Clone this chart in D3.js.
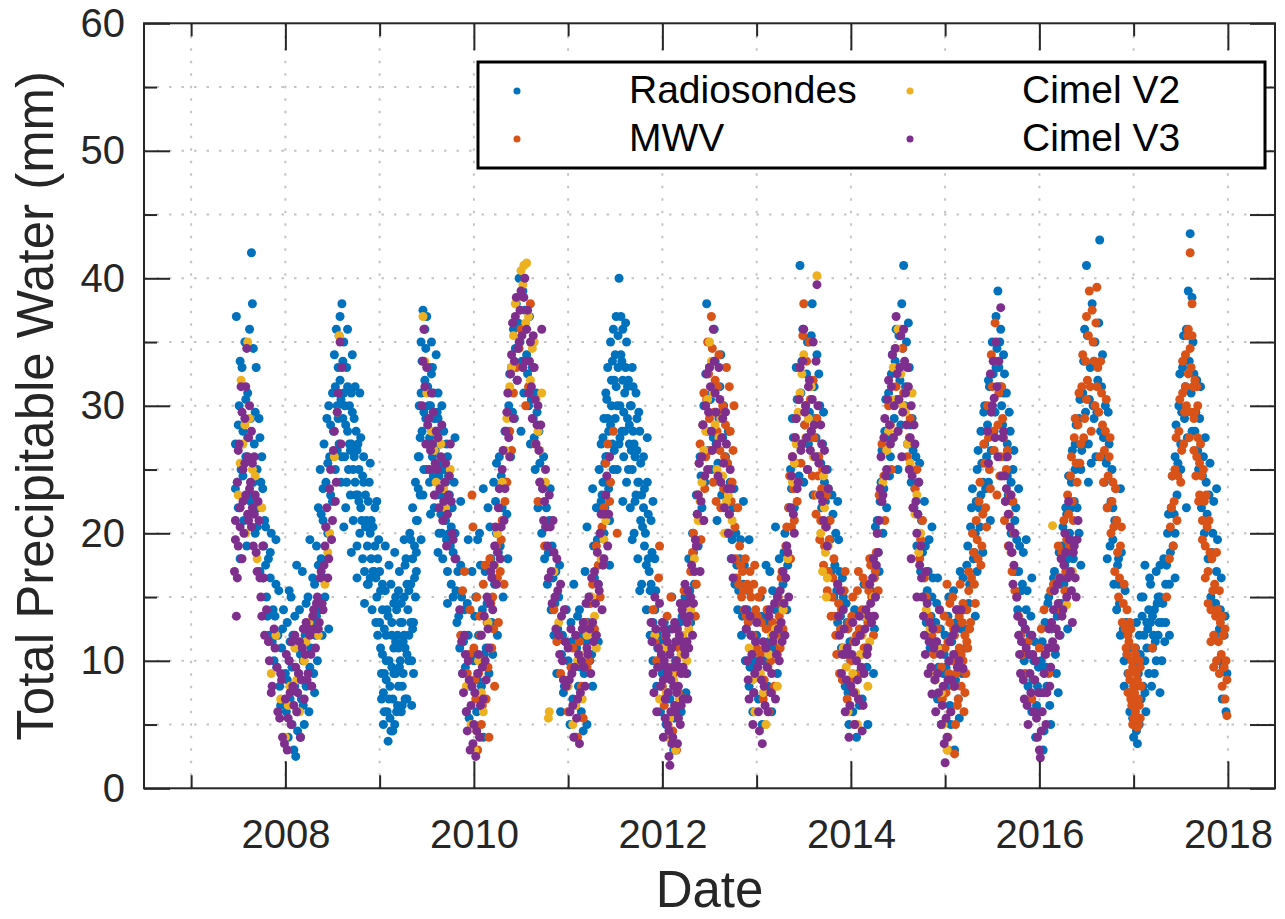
<!DOCTYPE html>
<html>
<head>
<meta charset="utf-8">
<script src="https://cdn.jsdelivr.net/npm/d3@7"></script>
<style>
  body { margin: 0; background: #fff; }
  svg text { font-family: "Liberation Sans", Arial, Helvetica, sans-serif; }
</style>
</head>
<body>
<div id="chart"></div>
<script>
// each point: [decimal year, total precipitable water in mm]
let radiosondes = [
  [2007.47,27],[2007.48,37],[2007.49,24],[2007.5,22],[2007.51,30],[2007.52,18],[2007.53,25],[2007.54,33],[2007.55,28],[2007.56,21],[2007.57,35],[2007.58,26],[2007.59,19],[2007.6,31],[2007.61,23],[2007.62,36],[2007.63,29],[2007.64,42],[2007.65,38],[2007.66,24],[2007.67,27],[2007.68,20],[2007.69,33],[2007.7,25],[2007.71,22],[2007.72,29],[2007.73,17],[2007.74,24],[2007.75,26],[2007.77,19],[2007.78,21],[2007.8,15],[2007.82,18],[2007.83,12],[2007.85,20],[2007.87,14],[2007.88,10],[2007.9,16],[2007.92,12],[2007.94,8],[2007.96,11],[2007.98,14],
  [2007.47,23.5],[2007.5,28.5],[2007.52,33.5],[2007.55,24.5],[2007.58,30.5],[2007.6,27.5],[2007.63,22.5],[2007.66,34.5],[2007.68,29.5],[2007.7,20.5],[2007.73,27.5],[2007.76,23.5],[2007.79,17.5],[2007.81,13.5],[2007.84,16.5],[2007.86,11.5],[2007.89,13.5],[2007.91,9.5],[2007.93,15.5],[2007.95,6.5],[2007.97,12.5],
  [2008.0,9],[2008.01,6],[2008.02,13],[2008.03,4],[2008.04,10],[2008.05,7],[2008.06,15],[2008.07,5],[2008.08,12],[2008.09,3],[2008.1,8],[2008.11,2.5],[2008.12,11],[2008.13,6],[2008.14,9],[2008.15,14],[2008.16,4],[2008.17,7],[2008.18,17],[2008.19,10],[2008.2,5],[2008.21,12],[2008.22,8],[2008.24,15],[2008.25,6],[2008.27,11],[2008.28,13],[2008.3,9],
  [2008.02,8.5],[2008.05,11.5],[2008.07,9.5],[2008.1,13.5],[2008.13,4.5],[2008.16,10.5],[2008.19,6.5],[2008.22,14.5],[2008.26,9.5],[2008.29,16.5],[2008.31,7.5],[2008.33,13.5],
  [2008.31,16],[2008.32,12],[2008.33,19],[2008.34,10],[2008.35,22],[2008.36,14],[2008.37,25],[2008.38,18],[2008.39,12],[2008.4,21],[2008.41,27],[2008.42,15],[2008.43,24],[2008.44,29],[2008.45,20],[2008.46,30],[2008.47,26],[2008.48,23],[2008.5,31],[2008.51,28],[2008.52,34],[2008.53,25],[2008.54,36],[2008.55,30],
  [2008.35,17.5],[2008.38,21.5],[2008.4,16.5],[2008.43,20.5],[2008.45,25.5],[2008.48,28.5],[2008.5,22.5],[2008.53,31.5],[2008.55,26.5],[2008.57,35.5],[2008.59,30.5],[2008.61,33.5],[2008.64,28.5],[2008.66,31.5],[2008.69,26.5],[2008.71,29.5],[2008.74,31.5],[2008.76,26.5],[2008.78,22.5],[2008.8,27.5],[2008.82,24.5],[2008.85,20.5],[2008.88,22.5],[2008.9,16.5],[2008.93,20.5],[2008.96,16.5],[2008.99,19.5],
  [2008.56,33],[2008.57,27],[2008.58,37],[2008.59,24],[2008.6,38],[2008.61,29],[2008.62,31],[2008.63,26],[2008.64,22],[2008.65,33],[2008.66,28],[2008.67,25],[2008.68,30],[2008.69,23],[2008.7,27],[2008.71,34],[2008.72,21],[2008.73,26],[2008.74,24],[2008.75,28],[2008.76,19],[2008.77,23],[2008.78,25],[2008.79,20],[2008.8,22],[2008.82,18],[2008.83,24],[2008.84,17],[2008.86,21],[2008.87,19],[2008.88,16],[2008.9,20],[2008.91,18],[2008.92,14],[2008.94,17],[2008.95,19],[2008.97,15],[2008.98,12],
  [2008.56,29],[2008.58,32],[2008.6,26],[2008.62,35],[2008.63,30],[2008.65,24],[2008.66,36],[2008.68,27],[2008.7,31],[2008.72,25],[2008.73,29],[2008.75,23],[2008.77,27],[2008.79,31],[2008.81,21],[2008.83,26],[2008.85,23],[2008.87,16],[2008.89,24],[2008.91,21],[2008.93,17],[2008.95,22],[2008.96,13],[2008.98,18],
  [2009.0,17],[2009.01,11],[2009.02,7],[2009.03,14],[2009.04,5],[2009.05,9],[2009.06,19],[2009.07,12],[2009.08,6],[2009.09,3.7],[2009.1,10],[2009.11,8],[2009.12,16],[2009.13,13],[2009.14,7],[2009.15,11],[2009.16,5],[2009.17,9],[2009.18,14],[2009.19,12],[2009.2,8],[2009.21,17],[2009.22,10],[2009.23,6],[2009.24,13],[2009.25,9],[2009.26,15],[2009.27,11],[2009.28,18],[2009.29,7],[2009.3,14],[2009.31,12],[2009.32,20],[2009.33,16],[2009.34,10],[2009.35,22],[2009.36,13],[2009.37,19],[2009.38,24],[2009.39,17],
  [2009.0,13],[2009.02,9],[2009.03,16],[2009.05,6],[2009.07,10],[2009.08,14],[2009.1,7],[2009.12,4.5],[2009.13,12],[2009.15,9],[2009.17,15],[2009.18,6],[2009.2,11],[2009.22,13],[2009.24,8],[2009.26,12],[2009.27,7],[2009.29,16],[2009.31,10],[2009.33,13],[2009.35,18],[2009.36,9],[2009.38,15],[2009.39,21],
  [2009.01,15.5],[2009.03,10.5],[2009.05,12.5],[2009.07,8.5],[2009.09,13.5],[2009.11,5.5],[2009.13,9.5],[2009.15,14.5],[2009.17,11.5],[2009.19,6.5],[2009.21,9.5],[2009.23,14.5],[2009.25,11.5],[2009.27,17.5],[2009.29,10.5],[2009.31,15.5],[2009.33,19.5],[2009.35,12.5],[2009.37,16.5],[2009.39,18.5],[2009.04,7.5],[2009.14,4.5],[2009.24,6.5],[2009.1,17.5],[2009.2,15.5],
  [2009.4,21],[2009.41,26],[2009.42,30],[2009.43,23],[2009.44,35],[2009.45,28],[2009.46,37.5],[2009.47,25],[2009.48,32],[2009.49,29],[2009.5,37],[2009.51,27],[2009.52,33],[2009.53,24],[2009.54,30],[2009.55,35],[2009.56,26],[2009.57,31],[2009.58,22],[2009.59,28],[2009.6,34],[2009.61,25],[2009.62,29],[2009.63,20],[2009.64,27],[2009.65,23],[2009.66,30],[2009.67,18],[2009.68,25],[2009.7,21],[2009.71,27],[2009.72,17],[2009.74,23],[2009.75,19],[2009.77,22],[2009.78,15],[2009.8,20],[2009.82,13],[2009.83,17],[2009.85,11],[2009.87,15],[2009.88,9],[2009.9,14],[2009.92,6],[2009.94,12],[2009.96,8],[2009.98,17],
  [2009.42,26],[2009.44,31],[2009.46,23],[2009.48,36],[2009.5,25],[2009.52,30],[2009.54,27],[2009.56,33],[2009.58,29],[2009.6,23],[2009.62,31],[2009.64,25],[2009.66,20],[2009.68,28],[2009.7,24],[2009.72,26],[2009.74,20],[2009.76,16],[2009.79,24],[2009.81,18],
  [2009.41,23.5],[2009.43,27.5],[2009.45,33.5],[2009.47,29.5],[2009.49,34.5],[2009.51,31.5],[2009.53,27.5],[2009.55,32.5],[2009.57,24.5],[2009.59,26.5],[2009.61,29.5],[2009.63,24.5],[2009.65,21.5],[2009.67,25.5],[2009.69,22.5],[2009.71,19.5],[2009.73,24.5],[2009.76,20.5],[2009.78,18.5],[2009.81,15.5],[2009.84,13.5],[2009.86,17.5],[2009.89,11.5],[2009.91,9.5],[2009.93,14.5],[2009.95,5.5],[2009.97,10.5],
  [2010.0,10],[2010.02,15],[2010.03,6],[2010.05,12],[2010.06,20],[2010.08,8],[2010.09,14],[2010.1,4],[2010.12,17],[2010.13,11],[2010.15,22],[2010.16,9],[2010.18,18],[2010.19,13],[2010.21,24],[2010.22,16],[2010.24,20],[2010.25,12],[2010.27,26],[2010.28,19],[2010.3,22],[2010.31,15],[2010.33,28],[2010.34,24],[2010.36,18],
  [2010.37,30],[2010.39,26],[2010.4,33],[2010.42,36],[2010.43,29],[2010.45,38],[2010.46,32],[2010.48,40],[2010.49,35],[2010.5,28],[2010.52,39],[2010.53,31],[2010.55,36],[2010.56,34],[2010.58,30],[2010.59,37],[2010.6,27],[2010.62,33],[2010.63,29],[2010.65,25],[2010.66,31],[2010.68,22],[2010.69,28],[2010.71,24],[2010.72,20],[2010.74,26],[2010.75,18],[2010.77,22],[2010.78,16],[2010.8,21],[2010.82,14],[2010.83,19],[2010.85,12],[2010.87,17],[2010.88,9],[2010.9,15],[2010.92,6],[2010.94,12],[2010.96,8],[2010.98,14],
  [2010.01,13.5],[2010.04,8.5],[2010.07,17.5],[2010.11,10.5],[2010.14,14.5],[2010.17,20.5],[2010.2,16.5],[2010.23,22.5],[2010.26,18.5],[2010.29,24.5],[2010.32,26.5],[2010.35,21.5],[2010.38,32.5],[2010.41,29.5],[2010.44,34.5],[2010.47,36.5],[2010.51,33.5],[2010.54,37.5],[2010.57,32.5],[2010.61,30.5],[2010.64,27.5],[2010.67,29.5],[2010.7,25.5],[2010.73,23.5],[2010.76,20.5],[2010.79,18.5],[2010.81,23.5],[2010.84,16.5],[2010.86,14.5],[2010.89,12.5],[2010.91,17.5],[2010.93,10.5],[2010.95,7.5],[2010.97,11.5],
  [2011.0,10],[2011.02,5],[2011.03,13],[2011.05,7],[2011.06,16],[2011.08,4],[2011.09,11],[2011.11,8],[2011.12,14],[2011.14,6],[2011.15,12],[2011.17,9],[2011.18,17],[2011.2,5],[2011.21,13],[2011.23,10],[2011.24,15],[2011.26,8],[2011.27,19],[2011.29,12],[2011.3,22],[2011.32,16],
  [2011.01,8.5],[2011.04,11.5],[2011.07,6.5],[2011.1,13.5],[2011.13,9.5],[2011.16,4.5],[2011.19,11.5],[2011.22,14.5],[2011.25,10.5],[2011.28,16.5],[2011.31,19.5],
  [2011.33,25],[2011.34,20],[2011.35,27],[2011.36,18],[2011.37,24],[2011.38,29],[2011.39,22],[2011.4,31],[2011.41,26],[2011.42,33],[2011.43,28],[2011.44,24],[2011.45,35],[2011.46,30],[2011.47,27],[2011.48,36],[2011.49,32],[2011.5,29],[2011.51,37],[2011.52,25],[2011.53,33],[2011.54,40],[2011.55,30],[2011.56,34],[2011.57,28],[2011.58,36],[2011.59,26],[2011.6,31],[2011.61,33],[2011.62,24],[2011.63,29],[2011.64,32],[2011.65,27],[2011.66,22],[2011.67,30],[2011.68,25],[2011.69,28],[2011.7,20],[2011.71,26],[2011.72,23],[2011.73,29],[2011.74,18],[2011.75,24],[2011.77,21],[2011.78,16],[2011.8,22],[2011.81,19],[2011.83,14],[2011.85,18],[2011.87,12],[2011.88,16],[2011.9,10],[2011.92,14],[2011.94,8],[2011.96,12],[2011.98,6],
  [2011.36,23],[2011.38,20],[2011.4,26],[2011.42,29],[2011.44,21],[2011.46,32],[2011.48,25],[2011.5,34],[2011.52,30],[2011.54,27],[2011.56,37],[2011.58,32],[2011.6,28],[2011.62,35],[2011.64,25],[2011.66,30],[2011.68,33],[2011.7,27],[2011.72,31],[2011.74,24],[2011.76,28],[2011.78,23],[2011.8,26],[2011.82,20],[2011.84,24],[2011.86,17],[2011.88,21],[2011.9,13],[2011.92,18],[2011.95,11],
  [2011.35,22.5],[2011.37,27.5],[2011.39,25.5],[2011.41,30.5],[2011.43,23.5],[2011.45,28.5],[2011.47,33.5],[2011.49,26.5],[2011.51,31.5],[2011.53,35.5],[2011.55,27.5],[2011.57,33.5],[2011.59,29.5],[2011.61,36.5],[2011.63,31.5],[2011.65,28.5],[2011.67,26.5],[2011.69,31.5],[2011.71,22.5],[2011.73,26.5],[2011.75,29.5],[2011.77,25.5],[2011.79,20.5],[2011.81,23.5],[2011.83,17.5],[2011.85,21.5],[2011.87,15.5],[2011.89,18.5],[2011.91,11.5],[2011.93,15.5],[2011.97,9.5],
  [2012.0,9],[2012.02,13],[2012.04,5],[2012.06,11],[2012.08,7],[2012.1,15],[2012.12,3],[2012.14,10],[2012.16,8],[2012.18,13],[2012.2,6],[2012.22,11],[2012.24,15],[2012.26,9],[2012.28,18],[2012.3,13],[2012.32,20],[2012.34,16],[2012.36,23],[2012.38,19],
  [2012.4,26],[2012.42,22],[2012.44,30],[2012.45,24],[2012.47,38],[2012.48,28],[2012.5,33],[2012.52,25],[2012.53,31],[2012.55,36],[2012.57,27],[2012.58,21],[2012.6,29],[2012.62,34],[2012.63,23],[2012.65,30],[2012.67,26],[2012.68,20],[2012.7,28],[2012.72,24],[2012.73,18],[2012.75,22],[2012.77,16],[2012.78,20],[2012.8,14],[2012.82,18],[2012.84,12],[2012.86,16],[2012.88,10],[2012.9,14],[2012.92,8],[2012.94,12],[2012.96,6],[2012.98,10],
  [2012.01,11.5],[2012.05,7.5],[2012.09,12.5],[2012.13,5.5],[2012.17,9.5],[2012.21,13.5],[2012.25,7.5],[2012.29,15.5],[2012.33,18.5],[2012.37,21.5],[2012.41,24.5],[2012.43,28.5],[2012.46,32.5],[2012.49,26.5],[2012.51,30.5],[2012.54,27.5],[2012.56,33.5],[2012.59,25.5],[2012.61,31.5],[2012.64,27.5],[2012.66,23.5],[2012.69,25.5],[2012.71,21.5],[2012.74,19.5],[2012.76,23.5],[2012.79,17.5],[2012.81,15.5],[2012.83,19.5],[2012.85,13.5],[2012.87,17.5],[2012.89,12.5],[2012.91,15.5],[2012.93,9.5],[2012.95,13.5],[2012.97,7.5],[2012.99,11.5],
  [2013.0,12],[2013.02,7],[2013.04,15],[2013.06,5],[2013.08,10],[2013.1,13],[2013.12,8],[2013.14,17],[2013.16,6],[2013.18,11],[2013.2,14],[2013.22,9],[2013.24,18],[2013.26,12],[2013.28,16],[2013.3,20],[2013.32,14],[2013.34,22],
  [2013.36,25],[2013.38,29],[2013.4,22],[2013.42,33],[2013.44,27],[2013.46,41],[2013.47,31],[2013.49,36],[2013.5,24],[2013.52,30],[2013.54,35],[2013.55,27],[2013.57,32],[2013.59,38],[2013.6,23],[2013.62,29],[2013.64,34],[2013.65,26],[2013.67,30],[2013.69,22],[2013.7,27],[2013.72,24],[2013.74,19],[2013.75,25],[2013.77,21],[2013.79,17],[2013.8,23],[2013.82,15],[2013.84,20],[2013.86,13],[2013.88,17],[2013.9,11],[2013.92,15],[2013.94,8],[2013.96,13],[2013.98,5],
  [2013.01,9.5],[2013.05,13.5],[2013.09,7.5],[2013.13,11.5],[2013.17,15.5],[2013.21,11.5],[2013.25,14.5],[2013.29,18.5],[2013.33,17.5],[2013.37,23.5],[2013.39,27.5],[2013.41,25.5],[2013.43,30.5],[2013.45,24.5],[2013.48,33.5],[2013.51,28.5],[2013.53,32.5],[2013.56,29.5],[2013.58,35.5],[2013.61,31.5],[2013.63,27.5],[2013.66,32.5],[2013.68,25.5],[2013.71,29.5],[2013.73,22.5],[2013.76,23.5],[2013.78,19.5],[2013.81,21.5],[2013.83,17.5],[2013.85,15.5],[2013.87,19.5],[2013.89,13.5],[2013.91,16.5],[2013.93,10.5],[2013.95,14.5],[2013.97,7.5],[2013.99,11.5],
  [2014.0,10],[2014.02,6],[2014.04,14],[2014.06,4],[2014.08,9],[2014.1,12],[2014.12,7],[2014.14,16],[2014.16,11],[2014.18,5],[2014.2,13],[2014.22,18],[2014.24,9],[2014.26,15],[2014.28,21],[2014.3,17],
  [2014.32,24],[2014.34,20],[2014.36,28],[2014.38,22],[2014.4,31],[2014.42,26],[2014.44,34],[2014.46,29],[2014.48,36],[2014.5,25],[2014.52,32],[2014.54,38],[2014.56,41],[2014.57,30],[2014.59,35],[2014.6,27],[2014.62,33],[2014.64,24],[2014.65,29],[2014.67,22],[2014.69,26],[2014.7,19],[2014.72,24],[2014.74,17],[2014.75,21],[2014.77,15],[2014.79,19],[2014.8,13],[2014.82,17],[2014.84,11],[2014.86,15],[2014.88,9],[2014.9,13],[2014.92,7],[2014.94,11],[2014.96,5],[2014.98,9],
  [2014.01,8.5],[2014.05,11.5],[2014.09,6.5],[2014.13,13.5],[2014.17,9.5],[2014.21,15.5],[2014.25,12.5],[2014.29,18.5],[2014.31,22.5],[2014.33,26.5],[2014.35,23.5],[2014.37,30.5],[2014.39,27.5],[2014.41,24.5],[2014.43,32.5],[2014.45,27.5],[2014.47,33.5],[2014.49,30.5],[2014.51,35.5],[2014.53,28.5],[2014.55,34.5],[2014.58,31.5],[2014.61,36.5],[2014.63,28.5],[2014.66,26.5],[2014.68,23.5],[2014.71,21.5],[2014.73,25.5],[2014.76,18.5],[2014.78,22.5],[2014.81,15.5],[2014.83,19.5],[2014.85,13.5],[2014.87,16.5],[2014.89,11.5],[2014.91,14.5],[2014.93,9.5],[2014.95,12.5],[2014.97,7.5],[2014.99,10.5],
  [2015.0,12],[2015.02,8],[2015.04,15],[2015.06,5],[2015.08,10],[2015.1,3],[2015.12,13],[2015.14,7],[2015.16,17],[2015.18,9],[2015.2,14],[2015.22,11],[2015.24,19],[2015.26,16],[2015.28,22],[2015.3,18],
  [2015.32,20],[2015.34,25],[2015.36,22],[2015.38,28],[2015.4,24],[2015.42,30],[2015.44,26],[2015.46,32],[2015.48,21],[2015.5,35],[2015.52,28],[2015.54,37],[2015.56,39],[2015.57,33],[2015.59,36],[2015.6,30],[2015.62,34],[2015.64,26],[2015.65,31],[2015.67,23],[2015.69,28],[2015.7,20],[2015.72,25],[2015.74,17],[2015.75,22],[2015.77,14],[2015.79,19],[2015.8,12],[2015.82,16],[2015.84,10],[2015.86,14],[2015.88,8],[2015.9,12],[2015.92,6],[2015.94,10],[2015.96,4],[2015.98,8],
  [2015.34,17],[2015.38,23],[2015.42,27],[2015.46,24],[2015.5,30],[2015.54,33],[2015.58,35],[2015.62,31],[2015.66,27],[2015.7,24],[2015.74,21],[2015.78,17],[2015.82,13],
  [2015.01,9.5],[2015.03,13.5],[2015.05,6.5],[2015.07,11.5],[2015.09,15.5],[2015.11,8.5],[2015.13,10.5],[2015.15,5.5],[2015.17,12.5],[2015.19,16.5],[2015.21,12.5],[2015.23,17.5],[2015.25,14.5],[2015.27,20.5],[2015.29,23.5],[2015.31,18.5],[2015.33,22.5],[2015.35,26.5],[2015.37,20.5],[2015.39,25.5],[2015.41,29.5],[2015.43,23.5],[2015.45,28.5],[2015.47,31.5],[2015.49,26.5],[2015.51,32.5],[2015.53,29.5],[2015.55,34.5],[2015.58,31.5],[2015.61,28.5],[2015.63,32.5],[2015.66,24.5],[2015.68,29.5],[2015.71,22.5],[2015.73,26.5],[2015.76,19.5],[2015.78,23.5],[2015.81,15.5],[2015.83,18.5],[2015.85,12.5],[2015.87,15.5],[2015.89,10.5],[2015.91,13.5],[2015.93,8.5],[2015.95,11.5],[2015.97,6.5],[2015.99,9.5],
  [2016.0,6],[2016.02,10],[2016.04,3],[2016.06,13],[2016.08,8],[2016.1,15],[2016.12,5],[2016.14,11],[2016.16,17],[2016.18,9],[2016.2,14],[2016.22,12],[2016.24,19],[2016.26,16],[2016.28,22],[2016.3,18],
  [2016.32,20],[2016.34,24],[2016.36,18],[2016.38,27],[2016.4,22],[2016.42,29],[2016.44,25],[2016.46,31],[2016.48,36],[2016.5,41],[2016.52,27],[2016.54,33],[2016.56,38],[2016.57,30],[2016.59,35],[2016.6,26],[2016.62,32],[2016.64,43],[2016.65,28],[2016.67,34],[2016.69,24],[2016.7,30],[2016.72,22],[2016.74,27],[2016.75,19],[2016.77,25],[2016.79,16],[2016.8,21],[2016.82,14],[2016.84,18],[2016.86,12],[2016.88,16],[2016.9,10],[2016.92,13],
  [2016.22,16],[2016.28,19],[2016.34,22],[2016.38,25],[2016.42,20],[2016.46,27],[2016.52,24],[2016.58,29],[2016.66,26],[2016.72,18],[2016.78,22],[2016.84,16],[2016.9,8],
  [2016.01,7.5],[2016.03,11.5],[2016.05,4.5],[2016.07,9.5],[2016.09,14.5],[2016.11,6.5],[2016.13,12.5],[2016.15,16.5],[2016.17,10.5],[2016.19,13.5],[2016.21,18.5],[2016.23,14.5],[2016.25,20.5],[2016.27,17.5],[2016.29,21.5],[2016.31,24.5],[2016.33,19.5],[2016.35,26.5],[2016.37,22.5],[2016.39,28.5],[2016.41,25.5],[2016.43,30.5],[2016.45,26.5],[2016.47,33.5],[2016.49,29.5],[2016.51,35.5],[2016.53,30.5],[2016.55,25.5],[2016.58,33.5],[2016.61,29.5],[2016.63,36.5],[2016.66,31.5],[2016.68,27.5],[2016.71,25.5],[2016.73,29.5],[2016.76,22.5],[2016.78,19.5],[2016.81,23.5],[2016.83,17.5],[2016.85,14.5],[2016.87,18.5],[2016.89,12.5],[2016.91,15.5],[2016.93,10.5],[2016.95,7.5],[2016.97,12.5],[2016.99,5.5],
  [2016.94,9],[2016.96,6],[2016.98,11],[2017.0,4],[2017.02,8],[2017.04,3.5],[2017.06,12],[2017.08,7],[2017.1,15],[2017.12,10],[2017.14,13],[2017.16,9],[2017.18,16],[2017.2,11],[2017.22,14],[2017.24,17],[2017.26,12],[2017.28,15],[2017.3,10],[2017.32,18],[2017.34,13],[2017.36,20],[2017.38,16],
  [2017.0,7],[2017.02,11],[2017.03,13],[2017.05,9],[2017.06,5],[2017.08,15],[2017.1,8],[2017.11,12],[2017.13,6],[2017.14,11],[2017.16,14],[2017.18,13],[2017.19,8],[2017.21,12],[2017.22,9],[2017.24,10],[2017.26,15],[2017.27,13],[2017.3,13],[2017.34,16],[2017.38,12],
  [2017.01,9.5],[2017.03,4.5],[2017.07,10.5],[2017.09,13.5],[2017.12,7.5],[2017.15,12.5],[2017.17,16.5],[2017.2,13.5],[2017.23,11.5],[2017.25,14.5],[2017.28,17.5],[2017.31,14.5],[2017.33,11.5],[2017.35,17.5],[2017.37,21.5],[2017.39,18.5],[2017.41,24.5],[2017.43,21.5],[2017.45,28.5],[2017.47,25.5],[2017.49,32.5],[2017.51,29.5],[2017.53,35.5],[2017.55,31.5],[2017.57,27.5],[2017.59,33.5],[2017.62,38.5],[2017.64,32.5],[2017.66,29.5],[2017.68,26.5],[2017.71,31.5],[2017.73,24.5],[2017.76,27.5],[2017.78,21.5],[2017.81,25.5],[2017.83,18.5],[2017.85,22.5],[2017.87,14.5],[2017.89,19.5],[2017.91,12.5],[2017.93,16.5],[2017.95,9.5],[2017.97,13.5],
  [2017.4,22],[2017.42,19],[2017.44,26],[2017.46,23],[2017.48,30],[2017.5,27],[2017.52,33],[2017.54,29],[2017.56,36],[2017.58,39],[2017.6,43.5],[2017.61,31],[2017.63,35],[2017.65,28],[2017.67,32],[2017.69,25],[2017.7,29],[2017.72,22],[2017.74,26],[2017.75,20],[2017.77,24],[2017.79,18],[2017.8,23],[2017.82,15],[2017.84,20],[2017.86,12],[2017.88,17],[2017.9,10],[2017.92,14],[2017.94,7],[2017.96,12],[2017.98,6],[2017.99,9],
  [2017.44,20],[2017.5,25],[2017.56,22],[2017.62,28],
  // scattered outliers around each season's envelope
  [2007.76,16.5],[2007.79,20.5],[2007.84,18.5],[2007.9,19.5],[2008.04,15.5],[2008.12,17.5],[2008.26,19.5],[2008.4,23.5],[2008.46,12.5],[2008.62,20.5],[2008.7,18.5],[2008.76,16.5],[2008.84,14.5],[2008.9,25.5],[2008.97,22.5],[2009.06,15.5],[2009.16,18.5],[2009.26,19.5],[2009.34,6.5],[2009.44,19.5],[2009.54,21.5],[2009.62,18.5],[2009.72,14.5],[2009.8,27.5],[2009.86,22.5],[2009.94,19.5],[2010.04,19.5],[2010.1,23.5],[2010.2,10.5],[2010.24,25.5],[2011.2,20.5],[2011.26,23.5],[2011.32,11.5],[2011.44,17.5],[2011.58,22.5],[2011.68,19.5],[2011.76,15.5],[2011.84,27.5],[2011.9,22.5],[2012.86,22.5],[2012.92,19.5],[2013.1,17.5],[2013.2,20.5],[2013.86,22.5],[2014.26,20.5],[2014.86,20.5],[2014.92,16.5],[2015.32,13.5],[2015.4,18.5],[2015.86,19.5],[2015.92,16.5],[2016.2,7.5],[2016.3,12.5],[2016.44,17.5],[2016.86,23.5],[2017.12,17.5],[2017.28,7.5],[2017.44,16.5],[2017.88,23.5]
];

let mwv = [
  [2009.86,12],[2009.9,17],[2009.93,9],[2009.96,14],[2009.98,23],[2009.99,20.5],[2010.0,11],[2010.02,7],[2010.03,15],[2010.04,3],[2010.05,9],[2010.07,12],[2010.08,5],[2010.1,16],[2010.11,10],[2010.13,7],[2010.14,13],[2010.16,4],[2010.17,18],[2010.19,11],[2010.2,15],[2010.22,8],[2010.24,19],[2010.26,13],[2010.28,17],[2010.3,21],[2010.32,16],[2010.35,24],[2010.38,28],[2010.42,31],
  [2009.88,15.5],[2009.95,10.5],[2010.01,8.5],[2010.06,13.5],[2010.09,6.5],[2010.12,17.5],[2010.15,9.5],[2010.18,14.5],[2010.21,12.5],[2010.25,16.5],[2010.29,19.5],[2010.33,22.5],[2010.4,26.5],[2010.48,34.5],[2010.58,31.5],[2010.68,22.5],
  [2010.45,33],[2010.5,36],[2010.55,30],[2010.6,38],[2010.65,27],[2010.7,24],[2010.75,19],
  [2010.85,14],[2010.92,9],[2011.0,6],[2011.05,11],[2011.1,4],[2011.14,8],[2011.18,13],[2011.22,10],[2011.26,16],[2011.3,19],[2011.34,15],[2011.38,22],[2011.42,27],[2011.45,24],[2011.48,28],[2011.52,20],
  [2010.88,11.5],[2010.96,8.5],[2011.03,9.5],[2011.08,6.5],[2011.12,11.5],[2011.16,5.5],[2011.2,9.5],[2011.24,14.5],[2011.28,12.5],[2011.32,17.5],[2011.36,20.5],[2011.4,25.5],[2011.44,22.5],
  [2011.9,14],[2011.94,10],[2011.97,19],[2012.0,8],[2012.03,12],[2012.06,5],[2012.09,15],[2012.12,9],[2012.15,3],[2012.18,11],[2012.21,14],[2012.24,7],[2012.27,13],[2012.3,17],[2012.33,20],[2012.36,16],
  [2011.92,11.5],[2011.96,16.5],[2011.99,10.5],[2012.02,6.5],[2012.05,13.5],[2012.08,9.5],[2012.11,4.5],[2012.14,12.5],[2012.17,7.5],[2012.2,10.5],[2012.23,15.5],[2012.26,11.5],[2012.29,14.5],[2012.32,18.5],[2012.35,13.5],
  [2012.38,23],[2012.4,27],[2012.42,21],[2012.44,31],[2012.46,26],[2012.48,35],[2012.5,29],[2012.52,37],[2012.54,24],[2012.56,32],[2012.58,28],[2012.6,34],[2012.62,22],[2012.64,30],[2012.66,26],[2012.68,33],[2012.7,20],[2012.72,28],[2012.74,24],[2012.76,30],[2012.78,18],[2012.8,22],
  [2012.39,25.5],[2012.41,19.5],[2012.43,28.5],[2012.45,23.5],[2012.47,30.5],[2012.49,32.5],[2012.51,26.5],[2012.53,34.5],[2012.55,29.5],[2012.57,22.5],[2012.59,31.5],[2012.61,26.5],[2012.63,29.5],[2012.65,23.5],[2012.67,28.5],[2012.69,25.5],[2012.71,31.5],[2012.73,22.5],[2012.75,26.5],[2012.77,20.5],[2012.79,16.5],[2012.83,17.5],[2012.86,15.5],[2012.89,13.5],[2012.92,15.5],[2012.95,13.5],[2012.98,17.5],
  [2012.81,16],[2012.82,19],[2012.84,15],[2012.85,17],[2012.87,14],[2012.88,18],[2012.9,16],[2012.91,13],[2012.93,17],[2012.94,15],[2012.96,12],[2012.97,16],[2012.99,14],[2013.0,11],[2013.02,15],[2013.03,9],[2013.05,13],[2013.07,7],[2013.09,11],[2013.11,14],[2013.13,6],[2013.15,10],[2013.17,13],[2013.19,8],[2013.21,12],[2013.23,15],[2013.25,11],[2013.27,17],[2013.29,14],[2013.31,19],
  [2013.01,13.5],[2013.04,10.5],[2013.06,15.5],[2013.08,8.5],[2013.1,12.5],[2013.12,9.5],[2013.14,12.5],[2013.16,7.5],[2013.18,11.5],[2013.2,14.5],[2013.22,10.5],[2013.24,13.5],[2013.26,16.5],[2013.28,12.5],[2013.3,16.5],[2013.32,20.5],[2013.35,24.5],[2013.37,20.5],[2013.39,23.5],[2013.41,27.5],[2013.43,22.5],[2013.45,30.5],[2013.47,25.5],[2013.49,35.5],[2013.51,28.5],[2013.53,33.5],[2013.55,27.5],[2013.57,30.5],[2013.59,24.5],[2013.61,27.5],[2013.63,21.5],[2013.65,24.5],[2013.67,19.5],[2013.69,23.5],[2013.71,17.5],[2013.73,20.5],[2013.75,15.5],[2013.77,19.5],[2013.79,13.5],
  [2013.34,22],[2013.36,18],[2013.38,26],[2013.4,21],[2013.42,29],[2013.44,24],[2013.46,33],[2013.48,27],[2013.5,38],[2013.52,30],[2013.54,25],[2013.56,35],[2013.58,28],[2013.6,32],[2013.62,23],[2013.64,29],[2013.66,26],[2013.68,21],[2013.7,25],[2013.72,19],[2013.74,23],[2013.76,17],[2013.78,21],
  [2013.8,15],[2013.82,18],[2013.84,12],[2013.86,16],[2013.88,9],[2013.9,14],[2013.92,11],[2013.94,17],[2013.96,7],[2013.98,13],[2014.0,10],[2014.02,15],[2014.04,5],[2014.06,12],[2014.08,17],[2014.1,9],[2014.12,14],[2014.14,11],[2014.16,16],[2014.18,13],[2014.2,18],[2014.22,15],[2014.24,12],[2014.26,17],[2014.28,20],
  [2013.81,16.5],[2013.83,13.5],[2013.85,10.5],[2013.87,14.5],[2013.89,12.5],[2013.91,8.5],[2013.93,15.5],[2013.95,10.5],[2013.97,12.5],[2013.99,8.5],[2014.01,13.5],[2014.03,11.5],[2014.05,7.5],[2014.07,15.5],[2014.09,12.5],[2014.11,10.5],[2014.13,16.5],[2014.15,13.5],[2014.17,10.5],[2014.19,15.5],[2014.21,17.5],[2014.23,13.5],[2014.25,16.5],[2014.27,18.5],[2014.29,15.5],[2014.35,24.5],[2014.42,28.5],[2014.48,31.5],[2014.55,34.5],[2014.62,27.5],[2014.68,23.5],[2014.74,19.5],[2014.78,16.5],[2014.83,13.5],
  [2014.3,23],[2014.33,27],[2014.36,21],[2014.4,30],[2014.43,25],[2014.46,33],[2014.5,28],[2014.53,36],[2014.56,31],[2014.6,26],[2014.63,29],[2014.66,22],[2014.7,25],[2014.73,18],[2014.76,21],[2014.8,15],
  [2014.86,12],[2014.9,9],[2014.94,14],[2014.97,7],[2015.0,11],[2015.02,16],[2015.03,4],[2015.04,9],[2015.05,13],[2015.06,6],[2015.07,10],[2015.08,15],[2015.09,8],[2015.1,12],[2015.11,5],[2015.12,9],[2015.13,14],[2015.14,7],[2015.15,11],[2015.16,16],[2015.17,8],[2015.18,13],[2015.19,10],[2015.2,6],[2015.21,12],[2015.22,9],[2015.23,14],[2015.24,11],[2015.25,17],[2015.27,13],[2015.29,20],[2015.03,3],[2015.1,2.7],
  [2014.88,10.5],[2014.92,12.5],[2014.96,9.5],[2014.99,13.5],[2015.01,7.5],[2015.03,11.5],[2015.05,14.5],[2015.07,8.5],[2015.09,12.5],[2015.11,10.5],[2015.13,6.5],[2015.15,13.5],[2015.17,10.5],[2015.19,14.5],[2015.21,7.5],[2015.23,11.5],[2015.25,15.5],[2015.26,12.5],[2015.28,16.5],[2015.3,18.5],[2015.32,14.5],[2015.34,19.5],[2015.36,22.5],[2015.38,17.5],[2015.4,21.5],[2015.42,25.5],[2015.44,20.5],[2015.46,27.5],[2015.48,23.5],[2015.5,31.5],[2015.52,26.5],[2015.54,33.5],[2015.56,28.5],[2015.58,24.5],[2015.6,31.5],[2015.62,27.5],[2015.64,22.5],[2015.66,26.5],[2015.68,21.5],[2015.7,18.5],[2015.72,22.5],[2015.74,15.5],[2015.78,13.5],[2015.82,10.5],[2015.88,11.5],[2015.95,8.5],
  [2015.31,16],[2015.33,21],[2015.35,18],[2015.37,24],[2015.39,19],[2015.41,27],[2015.43,22],[2015.45,30],[2015.47,25],[2015.49,34],[2015.51,28],[2015.53,36.5],[2015.55,23],[2015.57,31],[2015.59,26],[2015.61,29],[2015.63,21],[2015.65,25],[2015.67,19],[2015.69,23],[2015.71,17],[2015.73,20],
  [2015.76,15],[2015.8,12],[2015.85,9],[2015.92,7],[2016.0,11],[2016.05,14],[2016.1,9],[2016.15,16],[2016.2,19],[2016.23,14],[2016.26,21],[2016.28,17],
  [2016.02,12.5],[2016.07,10.5],[2016.12,15.5],[2016.17,12.5],[2016.21,16.5],[2016.24,18.5],[2016.27,15.5],[2016.29,19.5],[2016.31,21.5],[2016.33,24.5],[2016.35,22.5],[2016.37,27.5],[2016.39,25.5],[2016.41,28.5],[2016.43,25.5],[2016.45,31.5],[2016.47,27.5],[2016.49,33.5],[2016.5,30.5],[2016.52,35.5],[2016.54,31.5],[2016.56,37.5],[2016.58,33.5],[2016.6,36.5],[2016.61,31.5],[2016.63,29.5],[2016.65,33.5],[2016.67,28.5],[2016.69,26.5],[2016.71,30.5],[2016.73,24.5],[2016.75,27.5],[2016.77,22.5],[2016.79,20.5],[2016.81,23.5],[2016.83,18.5],[2016.85,16.5],[2016.87,20.5],[2016.89,14.5],[2016.91,12.5],
  [2016.3,23],[2016.32,19],[2016.34,26],[2016.36,21],[2016.38,29],[2016.4,24],[2016.42,31],[2016.44,27],[2016.46,34],[2016.48,29],[2016.5,37],[2016.51,32],[2016.53,39],[2016.55,28],[2016.57,35],[2016.59,30],[2016.61,39.3],[2016.62,33],[2016.64,26],[2016.66,31],[2016.68,24],[2016.7,28],[2016.72,22],[2016.74,26],[2016.76,20],[2016.78,24],[2016.8,17],[2016.82,21],[2016.84,15],[2016.86,19],[2016.88,13],[2016.9,16],[2016.92,11],
  [2016.93,14],[2016.94,12],[2016.95,9],[2016.96,13],[2016.97,7],[2016.98,10],[2016.99,5],[2017.0,8],[2017.01,11],[2017.02,6],[2017.03,9],[2017.04,4.8],[2017.05,7],[2017.06,10],[2017.07,5.5],[2017.08,8],
  [2016.93,10.5],[2016.94,7.5],[2016.95,11.5],[2016.96,8.5],[2016.97,12.5],[2016.98,6.5],[2016.99,9.5],[2017.0,5.5],[2017.01,7.5],[2017.02,10.5],[2017.03,6.5],[2017.04,8.5],[2017.05,5],[2017.06,6.5],[2017.07,9.5],
  [2017.2,11],[2017.35,15],
  [2017.38,18],[2017.4,22],[2017.42,19],[2017.44,25],[2017.46,21],[2017.48,28],[2017.5,24],[2017.52,31],[2017.53,27],[2017.55,34],[2017.56,30],[2017.58,36],[2017.6,42],[2017.61,33],[2017.62,38],[2017.64,29],[2017.65,32],[2017.67,26],[2017.68,30],[2017.7,23],[2017.71,27],[2017.73,21],[2017.74,25],[2017.76,19],[2017.77,23],[2017.79,17],[2017.8,21],[2017.82,14],[2017.83,18],[2017.85,12],[2017.86,16],[2017.88,10],[2017.89,14],[2017.91,9],[2017.92,13],[2017.94,8],[2017.95,12],[2017.97,7],[2017.98,10],[2017.99,5.7],
  [2017.39,20.5],[2017.41,24.5],[2017.43,22.5],[2017.45,27.5],[2017.47,24.5],[2017.49,30.5],[2017.51,26.5],[2017.52,33.5],[2017.54,29.5],[2017.55,31.5],[2017.57,35.5],[2017.58,32.5],[2017.59,27.5],[2017.6,34.5],[2017.61,29.5],[2017.62,35.5],[2017.63,31.5],[2017.64,26.5],[2017.65,29.5],[2017.66,24.5],[2017.67,31.5],[2017.68,27.5],[2017.69,22.5],[2017.7,25.5],[2017.72,24.5],[2017.73,19.5],[2017.75,22.5],[2017.76,16.5],[2017.78,20.5],[2017.79,14.5],[2017.81,18.5],[2017.82,11.5],[2017.84,15.5],[2017.85,9.5],[2017.87,13.5],[2017.88,18.5],[2017.9,11.5],[2017.91,15.5],[2017.93,10.5],[2017.94,13.5],[2017.96,9.5],[2017.97,12.5],[2017.99,8.5]
];

let cimelV2 = [
  [2007.5,23],[2007.53,32],[2007.55,27],[2007.58,20],[2007.6,35],[2007.62,29],[2007.65,25],[2007.7,18],[2007.75,22],
  [2007.52,25.5],[2007.57,28.5],[2007.63,21.5],[2007.68,24.5],
  [2007.85,9],[2007.9,12],[2007.95,7],[2008.0,4],[2008.05,8],[2008.1,11],[2008.15,6],[2008.2,10],[2008.25,13],
  [2008.03,6.5],[2008.12,8.5],[2008.22,11.5],
  [2008.35,12],[2008.42,16],[2008.47,20],[2008.52,26],[2008.57,35.5],[2008.45,18.5],[2008.55,29.5],
  [2009.46,37],[2009.5,31],[2009.55,28],[2009.6,24],[2009.65,27],[2009.7,22],[2009.75,25],[2009.48,33.5],[2009.58,26.5],[2009.68,23.5],
  [2009.92,8],[2009.97,5],[2010.01,3],[2010.05,10],[2010.1,6],[2010.15,13],[2010.03,4.5],[2010.08,7.5],
  [2010.25,20],[2010.3,24],[2010.35,29],[2010.4,33],[2010.44,38],[2010.5,40.6],[2010.53,41],[2010.56,41.2],[2010.58,37],[2010.6,32],[2010.64,35],[2010.68,28],[2010.72,31],[2010.76,24],[2010.79,5.5],[2010.8,6],
  [2010.22,17.5],[2010.33,26.5],[2010.38,31.5],[2010.42,35.5],[2010.47,38.5],[2010.52,39.5],[2010.55,36.5],[2010.62,34.5],[2010.66,30.5],[2010.7,26.5],
  [2010.85,17],[2010.9,13],[2011.0,8],[2011.05,5],[2011.1,10],[2011.15,7],[2011.2,12],[2011.25,15],[2011.3,11],[2011.35,18],[2011.4,21],
  [2011.08,6.5],[2011.18,10.5],[2011.28,13.5],[2011.38,19.5],
  [2011.92,12],[2011.97,7],[2012.02,11],[2012.06,4],[2012.1,9],[2012.14,3],[2012.18,7],[2012.22,12],[2012.26,10],[2012.3,14],[2012.34,18],
  [2012.04,7.5],[2012.08,5.5],[2012.12,8.5],[2012.2,10.5],[2012.28,12.5],
  [2012.38,21],[2012.42,24],[2012.46,28],[2012.5,35],[2012.54,31],[2012.58,25],[2012.62,29],[2012.66,20],[2012.7,23],[2012.74,21],
  [2012.4,22.5],[2012.44,26.5],[2012.48,30.5],[2012.52,33.5],[2012.56,28.5],[2012.6,27.5],[2012.64,24.5],[2012.68,22.5],
  [2012.92,11],[2012.98,6],[2013.04,9],[2013.1,5],[2013.16,12],[2013.22,8],[2013.28,14],[2013.33,18],
  [2012.96,8.5],[2013.07,7.5],[2013.13,10.5],[2013.2,12.5],[2013.26,11.5],
  [2013.38,24],[2013.42,27],[2013.46,31],[2013.5,34],[2013.55,29],[2013.6,26],[2013.64,40.2],[2013.66,23],[2013.68,20],[2013.7,17],[2013.72,22],[2013.74,15],[2013.76,19],
  [2013.4,25.5],[2013.44,29.5],[2013.48,32.5],[2013.52,27.5],[2013.58,31.5],[2013.62,28.5],[2013.71,24.5],[2013.73,18.5],[2013.75,16.5],
  [2013.92,11],[2013.97,6],[2014.02,9],[2014.07,5],[2014.12,12],[2014.18,8],[2014.24,15],
  [2013.95,9.5],[2014.05,7.5],[2014.1,10.5],[2014.15,13.5],[2014.2,11.5],
  [2014.34,24],[2014.4,28],[2014.45,33],[2014.5,36],[2014.55,30],[2014.6,27],[2014.65,31],[2014.7,23],[2014.74,20],
  [2014.38,26.5],[2014.43,30.5],[2014.48,34.5],[2014.53,32.5],[2014.58,29.5],[2014.63,25.5],[2014.68,21.5],[2014.72,18.5],
  [2014.8,14],[2014.86,9],[2014.92,11],[2014.98,5],[2015.02,3],[2014.84,12.5],[2014.9,8.5],[2014.96,7.5],
  [2016.14,20.6],[2016.29,14.4],[2016.35,17]
];

let cimelV3 = [
  [2007.46,17],[2007.47,21],[2007.48,13.5],[2007.49,24],[2007.5,19],[2007.51,27],[2007.52,22],[2007.53,31.5],[2007.54,18],[2007.55,25],[2007.56,20],[2007.57,29],[2007.58,23],[2007.59,34.5],[2007.6,26],[2007.61,21],[2007.62,30],[2007.63,24],[2007.64,28],[2007.65,22],[2007.66,19],[2007.67,26],[2007.68,23],[2007.7,17],[2007.72,21],[2007.74,15],[2007.76,19],[2007.78,12],
  [2007.47,19.5],[2007.49,16.5],[2007.5,26.5],[2007.52,20.5],[2007.54,29.5],[2007.55,22.5],[2007.57,25.5],[2007.58,31.5],[2007.6,21.5],[2007.61,27.5],[2007.62,23.5],[2007.64,20.5],[2007.65,25.5],[2007.67,21.5],[2007.69,18.5],[2007.71,22.5],[2007.73,16.5],[2007.75,13.5],[2007.77,16.5],
  [2007.8,14],[2007.83,10],[2007.86,8],[2007.89,11],[2007.92,6],[2007.95,9],[2007.97,4],[2008.0,7],[2008.02,3],[2008.04,10],[2008.06,5],[2008.08,8],[2008.1,12],[2008.12,6],[2008.14,9],[2008.16,4],[2008.18,11],[2008.2,7],[2008.22,13],[2008.24,9],[2008.26,12],[2008.28,8],[2008.3,14],
  [2007.82,11.5],[2007.85,7.5],[2007.88,12.5],[2007.91,9.5],[2007.94,5.5],[2007.96,8.5],[2007.99,3.5],[2008.01,10.5],[2008.03,5.5],[2008.05,7.5],[2008.07,11.5],[2008.09,6.5],[2008.11,9.5],[2008.13,7.5],[2008.15,11.5],[2008.17,8.5],[2008.19,12.5],[2008.21,10.5],[2008.23,8.5],[2008.25,12.5],[2008.27,10.5],[2008.29,13.5],[2008.31,12.5],[2008.33,14.5],[2008.35,12.5],[2008.37,16.5],[2008.39,14.5],[2008.41,17.5],[2008.43,20.5],[2008.45,16.5],[2008.47,23.5],[2008.49,19.5],[2008.51,26.5],[2008.53,22.5],[2008.55,29.5],
  [2008.32,11],[2008.34,15],[2008.36,13],[2008.38,17],[2008.4,14],[2008.42,19],[2008.44,22],[2008.46,18],[2008.48,25],[2008.5,21],[2008.52,28],[2008.54,24],[2008.56,31],[2008.58,35],[2008.59,27],[2008.6,33],
  [2009.45,30],[2009.47,36],[2009.49,27],[2009.5,33],[2009.52,29],[2009.53,25],[2009.55,31],[2009.56,27],[2009.58,23],[2009.6,28],[2009.61,25],[2009.63,22],[2009.65,26],[2009.67,21],[2009.69,24],[2009.71,19],[2009.73,23],[2009.75,27],[2009.77,20],[2009.8,18],
  [2009.46,33.5],[2009.48,31.5],[2009.51,28.5],[2009.54,26.5],[2009.57,29.5],[2009.59,25.5],[2009.62,27.5],[2009.64,23.5],[2009.66,28.5],[2009.68,22.5],[2009.7,25.5],[2009.72,21.5],[2009.74,24.5],[2009.76,22.5],[2009.78,19.5],
  [2009.85,14],[2009.88,9],[2009.9,12],[2009.92,6],[2009.94,10],[2009.96,3],[2009.98,8],[2010.0,5],[2010.02,2.5],[2010.04,9],[2010.06,4],[2010.08,12],[2010.1,7],[2010.12,10],[2010.14,15],[2010.16,11],[2010.18,17],
  [2009.87,11.5],[2009.89,7.5],[2009.91,10.5],[2009.93,4.5],[2009.95,8.5],[2009.97,6.5],[2009.99,3.5],[2010.01,7.5],[2010.03,4.5],[2010.05,10.5],[2010.07,6.5],[2010.09,9.5],[2010.11,13.5],[2010.13,8.5],[2010.15,12.5],[2010.17,14.5],[2010.19,16.5],[2010.21,17.5],[2010.23,20.5],[2010.25,18.5],[2010.27,23.5],[2010.29,20.5],[2010.31,26.5],[2010.33,23.5],[2010.35,29.5],[2010.37,27.5],[2010.39,32.5],[2010.41,36.5],[2010.43,33.5],[2010.45,38.5],[2010.47,34.5],[2010.49,37.5],[2010.51,35.5],[2010.53,38.5],[2010.55,33.5],[2010.57,37.5],[2010.59,33.5],[2010.61,31.5],[2010.63,35.5],[2010.65,30.5],[2010.67,28.5],[2010.69,26.5],[2010.71,28.5],[2010.73,23.5],[2010.75,22.5],[2010.77,20.5],[2010.79,16.5],[2010.81,20.5],[2010.83,14.5],[2010.85,18.5],[2010.87,12.5],[2010.89,15.5],[2010.91,10.5],[2010.93,13.5],[2010.95,8.5],[2010.97,11.5],
  [2010.2,14],[2010.22,19],[2010.24,16],[2010.26,22],[2010.28,18],[2010.3,25],[2010.32,21],[2010.34,28],[2010.36,31],[2010.38,26],[2010.4,34],[2010.42,29],[2010.44,37],[2010.46,32],[2010.48,35],[2010.5,39],[2010.52,33],[2010.54,40],[2010.56,36],[2010.58,31],[2010.6,35],[2010.62,29],[2010.64,33],[2010.66,27],[2010.68,30],[2010.7,24],[2010.72,36],[2010.74,21],[2010.76,25],
  [2010.78,19],[2010.8,23],[2010.82,17],[2010.84,21],[2010.86,15],[2010.88,18],[2010.9,12],[2010.92,16],[2010.94,10],[2010.96,14],[2010.98,8],
  [2011.0,11],[2011.02,6],[2011.04,9],[2011.06,4],[2011.08,12],[2011.1,7],[2011.12,3.5],[2011.14,10],[2011.16,13],[2011.18,8],[2011.2,11],[2011.22,15],[2011.24,9],[2011.26,13],[2011.28,17],[2011.3,12],[2011.32,16],[2011.34,20],[2011.36,14],[2011.38,18],[2011.4,23],[2011.42,19],[2011.44,26],
  [2011.01,8.5],[2011.03,12.5],[2011.05,6.5],[2011.07,9.5],[2011.09,5.5],[2011.11,10.5],[2011.13,7.5],[2011.15,12.5],[2011.17,9.5],[2011.19,14.5],[2011.21,10.5],[2011.23,12.5],[2011.25,16.5],[2011.27,11.5],[2011.29,14.5],[2011.31,18.5],[2011.33,15.5],[2011.35,21.5],[2011.37,17.5],[2011.39,21.5],[2011.41,24.5],[2011.43,21.5],
  [2011.88,13],[2011.9,9],[2011.92,15],[2011.94,6],[2011.96,11],[2011.98,8],[2012.0,13],[2012.01,4],[2012.02,10],[2012.03,7],[2012.04,12],[2012.05,5],[2012.06,9],[2012.07,2.5],[2012.08,1.8],[2012.09,6],[2012.1,11],[2012.11,4],[2012.12,8],[2012.13,13],[2012.14,6],[2012.15,10],[2012.16,3.5],[2012.17,8],[2012.18,12],[2012.19,5],[2012.2,9],[2012.21,14],[2012.22,7],[2012.23,11],[2012.24,16],[2012.25,9],[2012.26,13],[2012.27,7],[2012.28,11],[2012.3,15],[2012.32,12],[2012.34,17],
  [2011.89,11.5],[2011.91,7.5],[2011.93,12.5],[2011.95,9.5],[2011.97,14.5],[2011.99,10.5],[2012.01,8.5],[2012.02,12.5],[2012.03,5.5],[2012.04,9.5],[2012.05,11.5],[2012.06,7.5],[2012.07,4.5],[2012.08,10.5],[2012.09,8.5],[2012.1,3.5],[2012.11,12.5],[2012.12,9.5],[2012.13,6.5],[2012.14,11.5],[2012.15,7.5],[2012.16,12.5],[2012.17,5.5],[2012.18,9.5],[2012.19,14.5],[2012.2,6.5],[2012.21,11.5],[2012.22,9.5],[2012.23,13.5],[2012.24,10.5],[2012.25,14.5],[2012.26,11.5],[2012.27,15.5],[2012.29,13.5],[2012.31,17.5],[2012.33,14.5],[2012.35,19.5],
  [2012.36,19],[2012.38,23],[2012.4,17],[2012.42,26],[2012.44,21],[2012.46,30],[2012.48,25],[2012.5,33],[2012.52,28],[2012.54,36],[2012.56,31],[2012.58,27],[2012.6,33],[2012.62,24],[2012.64,29],[2012.66,22],[2012.68,27],[2012.7,20],[2012.72,25],[2012.74,18],
  [2012.37,21.5],[2012.39,25.5],[2012.41,22.5],[2012.43,28.5],[2012.45,24.5],[2012.47,32.5],[2012.49,29.5],[2012.51,31.5],[2012.53,26.5],[2012.55,33.5],[2012.57,29.5],[2012.59,24.5],[2012.61,30.5],[2012.63,27.5],[2012.65,25.5],[2012.67,29.5],[2012.69,23.5],[2012.71,21.5],[2012.73,23.5],[2012.75,16.5],
  [2012.88,14],[2012.9,10],[2012.92,7],[2012.94,12],[2012.96,5],[2012.98,9],[2013.0,13],[2013.02,6],[2013.04,10],[2013.06,3.5],[2013.08,8],[2013.1,11],[2013.12,6],[2013.14,14],[2013.16,9],[2013.18,12],[2013.2,7],[2013.22,15],[2013.24,10],[2013.26,13],[2013.28,17],[2013.3,12],[2013.32,19],[2013.34,15],
  [2012.89,12.5],[2012.91,8.5],[2012.93,13.5],[2012.95,10.5],[2012.97,7.5],[2012.99,11.5],[2013.01,9.5],[2013.03,4.5],[2013.05,8.5],[2013.07,11.5],[2013.09,6.5],[2013.11,9.5],[2013.13,13.5],[2013.15,7.5],[2013.17,11.5],[2013.19,14.5],[2013.21,10.5],[2013.23,12.5],[2013.25,15.5],[2013.27,11.5],[2013.29,14.5],[2013.31,16.5],[2013.33,18.5],
  [2013.36,22],[2013.38,26],[2013.4,20],[2013.42,29],[2013.44,24],[2013.46,33],[2013.48,27],[2013.5,36],[2013.52,30],[2013.54,25],[2013.56,32],[2013.58,28],[2013.6,35],[2013.62,26],[2013.64,39.5],[2013.65,30],[2013.67,23],[2013.69,27],[2013.71,21],[2013.73,25],[2013.75,19],
  [2013.37,24.5],[2013.39,21.5],[2013.41,27.5],[2013.43,23.5],[2013.45,30.5],[2013.47,26.5],[2013.49,33.5],[2013.51,29.5],[2013.53,27.5],[2013.55,31.5],[2013.57,26.5],[2013.59,30.5],[2013.61,28.5],[2013.63,33.5],[2013.66,25.5],[2013.68,28.5],[2013.7,22.5],[2013.72,26.5],[2013.74,20.5],[2013.76,23.5],
  [2013.86,16],[2013.88,12],[2013.9,9],[2013.92,14],[2013.94,6],[2013.96,11],[2013.98,4],[2014.0,8],[2014.02,13],[2014.04,5],[2014.06,10],[2014.08,7],[2014.1,12],[2014.12,4.5],[2014.14,9],[2014.16,14],[2014.18,11],[2014.2,16],[2014.22,13],[2014.24,18],[2014.26,15],[2014.28,20],
  [2013.87,13.5],[2013.89,15.5],[2013.91,10.5],[2013.93,12.5],[2013.95,8.5],[2013.97,10.5],[2013.99,6.5],[2014.01,10.5],[2014.03,7.5],[2014.05,11.5],[2014.07,8.5],[2014.09,13.5],[2014.11,9.5],[2014.13,6.5],[2014.15,12.5],[2014.17,10.5],[2014.19,13.5],[2014.21,14.5],[2014.23,16.5],[2014.25,13.5],[2014.27,17.5],[2014.29,18.5],
  [2014.3,21],[2014.32,26],[2014.34,23],[2014.36,29],[2014.38,25],[2014.4,32],[2014.42,27],[2014.44,34],[2014.46,30],[2014.48,37],[2014.5,28],[2014.52,33],[2014.54,26],[2014.56,36],[2014.58,31],[2014.6,33],[2014.62,25],[2014.64,30],[2014.66,22],[2014.68,27],[2014.7,20],[2014.72,24],[2014.64,18],[2014.7,15],
  [2014.31,23.5],[2014.33,22.5],[2014.35,27.5],[2014.37,24.5],[2014.39,30.5],[2014.41,28.5],[2014.43,31.5],[2014.45,27.5],[2014.47,34.5],[2014.49,32.5],[2014.51,30.5],[2014.53,35.5],[2014.55,29.5],[2014.57,33.5],[2014.59,28.5],[2014.61,31.5],[2014.63,27.5],[2014.65,24.5],[2014.67,28.5],[2014.69,22.5],[2014.71,21.5],[2014.73,17.5],
  [2014.74,19],[2014.76,15],[2014.78,12],[2014.8,17],[2014.82,9],[2014.84,13],[2014.86,7.4],[2014.88,11],[2014.9,6],[2014.92,9],[2014.94,14],[2014.96,5],[2014.98,8],[2015.0,2],[2015.02,4],[2015.04,10],[2015.06,6],[2015.08,12],[2015.1,8],[2015.12,14],[2015.15,10],[2015.17,14],[2015.19,9.4],
  [2014.75,16.5],[2014.77,13.5],[2014.79,10.5],[2014.81,14.5],[2014.83,11.5],[2014.85,9.5],[2014.87,12.5],[2014.89,8.5],[2014.91,11.5],[2014.93,7.5],[2014.95,10.5],[2014.97,6.5],[2014.99,3.5],[2015.01,5.5],[2015.03,8.5],[2015.05,11.5],[2015.07,8.5],[2015.09,10.5],[2015.11,12.5],[2015.13,9.5],
  [2015.45,28],[2015.48,32.5],[2015.5,30],[2015.52,30.6],[2015.54,35],[2015.56,26],[2015.59,37.7],[2015.6,24.5],[2015.62,28],[2015.64,22.5],[2015.66,26],[2015.68,19],[2015.7,23],[2015.72,16],[2015.74,20],
  [2015.46,25.5],[2015.49,29.5],[2015.51,33.5],[2015.53,27.5],[2015.55,31.5],[2015.57,33.5],[2015.61,27.5],[2015.63,24.5],[2015.65,23.5],[2015.67,21.5],[2015.69,20.5],[2015.71,18.5],[2015.73,17.5],
  [2015.76,15],[2015.78,12],[2015.8,9],[2015.82,13],[2015.84,7],[2015.86,11],[2015.88,5],[2015.9,9],[2015.92,12],[2015.94,6],[2015.96,10],[2015.98,4],[2016.0,3],[2016.01,2.4],[2016.03,6],[2016.05,9],[2016.07,5],[2016.09,11],[2016.11,8],[2016.13,13],
  [2015.77,13.5],[2015.79,10.5],[2015.81,11.5],[2015.83,8.5],[2015.85,12.5],[2015.87,6.5],[2015.89,10.5],[2015.91,7.5],[2015.93,10.5],[2015.95,8.5],[2015.97,5.5],[2015.99,7.5],[2016.02,4.5],[2016.04,7.5],[2016.06,10.5],[2016.08,7.5],[2016.1,12.5],[2016.12,9.5],[2016.14,11.5],[2016.16,15.5],[2016.18,12.5],[2016.2,14.5],[2016.22,16.5],[2016.24,13.5],[2016.26,17.5],[2016.28,18.5],[2016.3,16.5],[2016.32,19.5],[2016.34,15.5],[2016.36,18.5],[2016.38,16.5],[2016.4,19.5],
  [2016.15,14],[2016.17,11],[2016.19,16],[2016.21,12],[2016.23,18],[2016.25,14],[2016.27,20],[2016.29,15],[2016.31,22.5],[2016.33,17],[2016.35,13],[2016.37,19],[2016.39,15],[2016.41,21]
];

let seriesNames = ['Radiosondes', 'MWV', 'Cimel V2', 'Cimel V3'];
let seriesColors = ['#0072BD', '#D95319', '#EDB120', '#7E2F8E'];
let yearLabels = [2008, 2010, 2012, 2014, 2016, 2018];
let minorYears = [2007, 2009, 2011, 2013, 2015, 2017];
let yMajor = [0, 10, 20, 30, 40, 50, 60];
let yMinor = [5, 15, 25, 35, 45, 55];

let axisColor = '#262626', gridColor = '#c4c4c4';
let margin = { top: 23.3, left: 144 };
let width = 1275 - 144, height = 788.3 - 23.3;

let svg = d3.select('#chart')
  .append('svg')
  .attr('width', 1285)
  .attr('height', 919)
  .style('background', '#fff');

let graph = svg.append('g')
  .attr('transform', 'translate(' + margin.left + ', ' + margin.top + ')');

let x = d3.scaleLinear().domain([2006.5, 2018.5]).range([0, width]);
let y = d3.scaleLinear().domain([0, 60]).range([height, 0]);

// dotted grid (major and minor alike)
let gridX = yearLabels.concat(minorYears).filter(d => d < 2018.5);
let gridY = yMajor.concat(yMinor).filter(d => d > 0 && d < 60);

graph.append('g').selectAll('line')
  .data(gridX)
  .join('line')
  .attr('x1', d => x(d)).attr('x2', d => x(d))
  .attr('y1', 0).attr('y2', height)
  .attr('stroke', gridColor).attr('stroke-width', 2)
  .attr('stroke-dasharray', '2.5 10');

graph.append('g').selectAll('line')
  .data(gridY)
  .join('line')
  .attr('y1', d => y(d)).attr('y2', d => y(d))
  .attr('x1', 0).attr('x2', width)
  .attr('stroke', gridColor).attr('stroke-width', 2)
  .attr('stroke-dasharray', '2.5 10');

// points, drawn in legend order
let allSeries = [radiosondes, mwv, cimelV2, cimelV3];
allSeries.forEach((pts, i) => {
  graph.append('g')
    .selectAll('circle')
    .data(pts)
    .join('circle')
    .attr('cx', d => x(d[0]))
    .attr('cy', d => y(d[1]))
    .attr('r', 4.5)
    .attr('fill', seriesColors[i]);
});

function styleAxis(g) {
  g.select('.domain').remove();
  g.selectAll('line').attr('stroke', axisColor).attr('stroke-width', 2);
  g.selectAll('text').attr('fill', axisColor).style('font-size', '40px');
}

// bottom
graph.append('g')
  .attr('transform', 'translate(0, ' + height + ')')
  .call(d3.axisBottom(x).tickValues(yearLabels).tickFormat(d3.format('d')).tickSize(-27).tickPadding(31))
  .call(styleAxis);
graph.append('g')
  .attr('transform', 'translate(0, ' + height + ')')
  .call(d3.axisBottom(x).tickValues(minorYears).tickFormat('').tickSize(-13))
  .call(styleAxis);

// top
graph.append('g')
  .call(d3.axisTop(x).tickValues(yearLabels).tickFormat('').tickSize(-27))
  .call(styleAxis);
graph.append('g')
  .call(d3.axisTop(x).tickValues(minorYears).tickFormat('').tickSize(-13))
  .call(styleAxis);

// left
graph.append('g')
  .call(d3.axisLeft(y).tickValues(yMajor).tickSize(-26).tickPadding(19))
  .call(styleAxis);
graph.append('g')
  .call(d3.axisLeft(y).tickValues(yMinor).tickFormat('').tickSize(-13))
  .call(styleAxis);

// right
graph.append('g')
  .attr('transform', 'translate(' + width + ', 0)')
  .call(d3.axisRight(y).tickValues(yMajor.concat(yMinor)).tickFormat('').tickSize(-25))
  .call(styleAxis);

graph.append('rect')
  .attr('width', width).attr('height', height)
  .attr('fill', 'none')
  .attr('stroke', axisColor).attr('stroke-width', 2);

// axis titles
svg.append('text')
  .attr('x', margin.left + width / 2)
  .attr('y', 907)
  .attr('text-anchor', 'middle')
  .attr('fill', axisColor)
  .style('font-size', '51px')
  .text('Date');

svg.append('text')
  .attr('transform', 'translate(53, ' + (margin.top + height / 2) + ') rotate(-90)')
  .attr('text-anchor', 'middle')
  .attr('fill', axisColor)
  .style('font-size', '51px')
  .text('Total Precipitable Water (mm)');

// legend
let legend = svg.append('g');
legend.append('rect')
  .attr('x', 478).attr('y', 62)
  .attr('width', 787).attr('height', 106)
  .attr('fill', '#fff')
  .attr('stroke', '#000').attr('stroke-width', 3);

let legendCols = [517, 910], legendRows = [91, 139];
seriesNames.forEach((name, i) => {
  let cx = legendCols[Math.floor(i / 2)], cy = legendRows[i % 2];
  legend.append('circle')
    .attr('cx', cx).attr('cy', cy).attr('r', 3.5)
    .attr('fill', seriesColors[i]);
  legend.append('text')
    .attr('x', cx + 112).attr('y', cy + 12)
    .attr('fill', '#000')
    .style('font-size', '39px')
    .text(name);
});
</script>
</body>
</html>
